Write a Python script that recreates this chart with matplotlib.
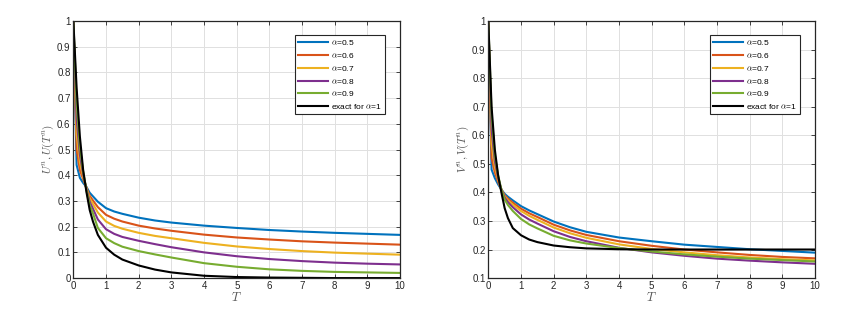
import matplotlib
matplotlib.use('Agg')
import matplotlib.pyplot as plt
from matplotlib.ticker import FormatStrFormatter

# Basic style: Helvetica-like text, LaTeX-like maths
plt.rcParams['font.family'] = ['Liberation Sans', 'DejaVu Sans']
plt.rcParams['mathtext.fontset'] = 'cm'

# Time points
T = [0, 0.1, 0.2, 0.3, 0.4, 0.5, 0.6, 0.75, 1, 1.25, 1.5, 2, 2.5, 3, 4, 5, 6, 7, 8, 9, 10]

alphas = ['0.5', '0.6', '0.7', '0.8', '0.9']

# Left panel: U^n for each alpha, plus the exact curve for alpha = 1
u_a05 = [1, 0.44, 0.39, 0.37, 0.355, 0.332, 0.318, 0.297, 0.272, 0.259, 0.250, 0.235, 0.224, 0.216, 0.204, 0.195, 0.187, 0.181, 0.176, 0.172, 0.168]
u_a06 = [1, 0.50, 0.42, 0.385, 0.352, 0.32, 0.302, 0.276, 0.246, 0.231, 0.220, 0.204, 0.193, 0.184, 0.169, 0.158, 0.150, 0.143, 0.138, 0.134, 0.130]
u_a07 = [1, 0.56, 0.45, 0.395, 0.35, 0.31, 0.288, 0.255, 0.220, 0.203, 0.192, 0.176, 0.164, 0.155, 0.137, 0.123, 0.113, 0.105, 0.099, 0.095, 0.091]
u_a08 = [1, 0.62, 0.48, 0.405, 0.346, 0.297, 0.27, 0.228, 0.190, 0.172, 0.160, 0.145, 0.132, 0.120, 0.100, 0.085, 0.074, 0.066, 0.060, 0.056, 0.053]
u_a09 = [1, 0.68, 0.51, 0.415, 0.342, 0.284, 0.252, 0.195, 0.155, 0.136, 0.122, 0.105, 0.092, 0.080, 0.058, 0.044, 0.034, 0.028, 0.024, 0.022, 0.020]
u_exact = [1, 0.74, 0.55, 0.42, 0.335, 0.265, 0.22, 0.168, 0.118, 0.091, 0.072, 0.049, 0.033, 0.022, 0.009, 0.004, 0.002, 0.001, 0, 0, 0]

# Right panel: V^n for each alpha, plus the exact curve
v_a05 = [1, 0.48, 0.45, 0.428, 0.41, 0.395, 0.385, 0.372, 0.352, 0.337, 0.324, 0.298, 0.278, 0.262, 0.242, 0.229, 0.217, 0.209, 0.201, 0.195, 0.189]
v_a06 = [1, 0.52, 0.47, 0.437, 0.41, 0.39, 0.378, 0.364, 0.343, 0.327, 0.314, 0.287, 0.267, 0.251, 0.229, 0.213, 0.2, 0.19, 0.181, 0.174, 0.169]
v_a07 = [1, 0.57, 0.49, 0.445, 0.41, 0.386, 0.372, 0.357, 0.335, 0.318, 0.304, 0.277, 0.257, 0.241, 0.218, 0.202, 0.19, 0.18, 0.172, 0.166, 0.162]
v_a08 = [1, 0.62, 0.51, 0.452, 0.41, 0.382, 0.366, 0.348, 0.323, 0.305, 0.291, 0.264, 0.244, 0.229, 0.206, 0.19, 0.178, 0.168, 0.161, 0.155, 0.15]
v_a09 = [1, 0.67, 0.53, 0.46, 0.41, 0.375, 0.356, 0.335, 0.307, 0.288, 0.274, 0.248, 0.232, 0.221, 0.205, 0.193, 0.183, 0.175, 0.168, 0.163, 0.158]
v_exact = [1, 0.70, 0.55, 0.46, 0.40, 0.345, 0.31, 0.275, 0.25, 0.235, 0.226, 0.214, 0.208, 0.204, 0.201, 0.2, 0.2, 0.2, 0.2, 0.2, 0.2]

# MATLAB default line colours
colors = ['#0072BD', '#D95319', '#EDB120', '#7E2F8E', '#77AC30']

fig = plt.figure(figsize=(8.51, 3.10), dpi=100)
ax1 = fig.add_axes([0.0862, 0.103, 0.384, 0.829])
ax2 = fig.add_axes([0.5738, 0.103, 0.384, 0.829])


def draw_panel(ax, series, exact, ylabel, ymin):
    for vals, a, c in zip(series, alphas, colors):
        ax.plot(T, vals, color=c, lw=1.5, label=r'$\alpha$=' + a)
    ax.plot(T, exact, color='black', lw=1.5, label=r'exact for $\alpha$=1')

    ax.set_xlim(0, 10)
    ax.set_ylim(ymin, 1)
    ax.set_xticks(range(0, 11))
    ax.set_yticks([round(ymin + 0.1 * i, 1) for i in range(int(round((1 - ymin) * 10)) + 1)])
    ax.yaxis.set_major_formatter(FormatStrFormatter('%g'))

    # MATLAB-like box: ticks inside on all four sides, light grid
    ax.tick_params(direction='in', top=True, right=True, length=3, width=0.6,
                   labelsize=7, colors='#262626', pad=2)
    ax.grid(True, color='#e0e0e0', lw=0.7)
    ax.set_axisbelow(True)
    for s in ax.spines.values():
        s.set_color('#262626')
        s.set_linewidth(0.9)

    ax.set_xlabel('$T$', fontsize=9, color='#555555', labelpad=0)
    ax.set_ylabel(ylabel, fontsize=8, color='#555555', labelpad=1)

    leg = ax.legend(loc='upper right', bbox_to_anchor=(0.967, 0.962), fontsize=6,
                    handlelength=3.6, handletextpad=0.3, labelspacing=0.45,
                    borderpad=0.4, fancybox=False, framealpha=1)
    leg.get_frame().set_edgecolor('#262626')
    leg.get_frame().set_linewidth(0.8)


draw_panel(ax1, [u_a05, u_a06, u_a07, u_a08, u_a09], u_exact, '$U^n, U(T^n)$', 0.0)
draw_panel(ax2, [v_a05, v_a06, v_a07, v_a08, v_a09], v_exact, '$V^n, V(T^n)$', 0.1)

fig.savefig('out.png', dpi=100, facecolor='white')
